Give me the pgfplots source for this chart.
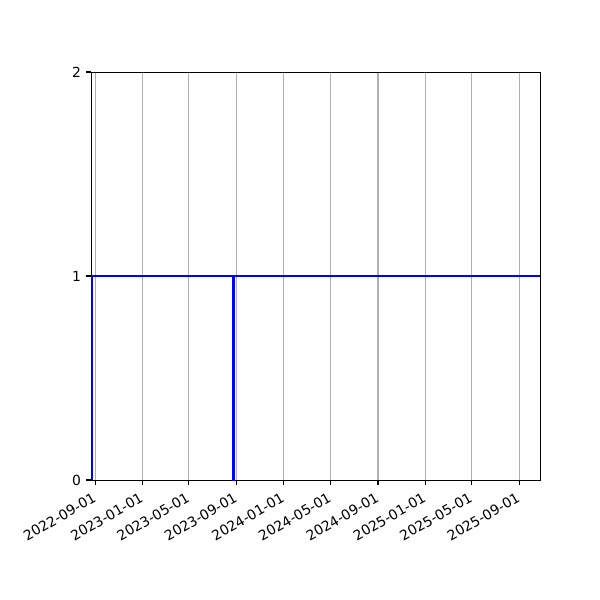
\documentclass[border=0pt]{standalone}
\usepackage{fontspec}
\setmainfont{DejaVu Sans}
\usepackage{pgfplots}
\pgfplotsset{compat=1.18}

% days counted from 2022-09-01
\begin{document}
\begin{tikzpicture}
\path[use as bounding box] (0,0) rectangle (432pt,432pt);
\begin{axis}[
    at={(65.52pt,86.4pt)}, anchor=south west,
    scale only axis,
    width=323.28pt, height=293.76pt,
    xmin=-11, xmax=1150,
    ymin=0, ymax=2,
    xtick={0,122,242,365,487,608,731,853,973,1096},
    xticklabels={2022-09-01,2023-01-01,2023-05-01,2023-09-01,2024-01-01,2024-05-01,2024-09-01,2025-01-01,2025-05-01,2025-09-01},
    ytick={0,1,2},
    xtick pos=bottom, ytick pos=left,
    tick align=outside,
    major tick length=3.5pt,
    tick style={black, line width=0.8pt},
    axis line style={line width=0.7pt},
    xmajorgrids,
    grid style={color=black!31, line width=0.8pt},
    font=\fontsize{10}{12}\selectfont,
    /pgf/number format/assume math mode=true,
    xticklabel style={rotate=30, anchor=north east, inner sep=0pt, xshift=-4.5pt, yshift=-3pt},
    yticklabel style={inner sep=0pt, xshift=-3.5pt},
]
\addplot[blue, line width=1.5pt] coordinates {
    (-9.5,0) (-9.5,1) (356,1) (356,0) (358.5,0) (358.5,1) (1150,1)
};
\end{axis}
\end{tikzpicture}
\end{document}
